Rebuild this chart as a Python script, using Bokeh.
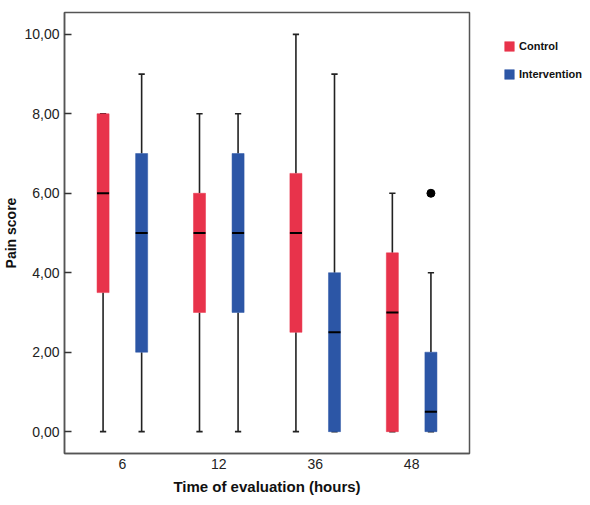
from bokeh.plotting import figure
from bokeh.models import Range1d, FixedTicker, Legend, LegendItem, ColumnDataSource
from bokeh.embed import file_html
from bokeh.resources import INLINE

# ---- data ----
times = ["6", "12", "36", "48"]
ctrl_min = [0, 0, 0, 0]
ctrl_q1 = [3.5, 3, 2.5, 0]
ctrl_med = [6, 5, 5, 3]
ctrl_q3 = [8, 6, 6.5, 4.5]
ctrl_max = [8, 8, 10, 6]

int_min = [0, 0, 0, 0]
int_q1 = [2, 3, 0, 0]
int_med = [5, 5, 2.5, 0.5]
int_q3 = [7, 7, 4, 2]
int_max = [9, 8, 9, 4]

outlier_time = ["48"]
outlier_value = [6]

y_ticks = [0, 2, 4, 6, 8, 10]
y_tick_labels = ["0,00", "2,00", "4,00", "6,00", "8,00", "10,00"]

RED = "#E8334B"
BOXBLUE = "#2C56A6"
FONT = "Liberation Sans"

OFF = 0.2
BOXW = 0.125
CAPW = 0.065

p = figure(frame_width=405, frame_height=441, output_backend="svg", toolbar_location=None,
           x_range=Range1d(-0.6, 3.6), y_range=Range1d(-0.55, 10.55),
           min_border_left=0, min_border_right=111, min_border_top=12, min_border_bottom=0)
p.background_fill_color = "white"
p.border_fill_color = "white"
p.outline_line_color = "#555555"
p.outline_line_width = 1.5
p.xgrid.visible = False
p.ygrid.visible = False


def series(q1, med, q3, lo, hi, off):
    xs = [i + off for i in range(len(times))]
    return ColumnDataSource(dict(x=xs, q1=q1, med=med, q3=q3, lo=lo, hi=hi,
                                 cl=[x - CAPW / 2 for x in xs], cr=[x + CAPW / 2 for x in xs],
                                 bl=[x - BOXW / 2 for x in xs], br=[x + BOXW / 2 for x in xs]))


src_c = series(ctrl_q1, ctrl_med, ctrl_q3, ctrl_min, ctrl_max, -OFF)
src_i = series(int_q1, int_med, int_q3, int_min, int_max, OFF)

renderers = []
for src, col in ((src_c, RED), (src_i, BOXBLUE)):
    p.segment(x0="x", y0="lo", x1="x", y1="q1", source=src, line_color="#222222", line_width=1.6)
    p.segment(x0="x", y0="q3", x1="x", y1="hi", source=src, line_color="#222222", line_width=1.6)
    p.segment(x0="cl", y0="lo", x1="cr", y1="lo", source=src, line_color="#222222", line_width=1.6)
    p.segment(x0="cl", y0="hi", x1="cr", y1="hi", source=src, line_color="#222222", line_width=1.6)
    r = p.vbar(x="x", width=BOXW, bottom="q1", top="q3", source=src,
               fill_color=col, line_color=col, line_width=0.5)
    p.segment(x0="bl", y0="med", x1="br", y1="med", source=src, line_color="black", line_width=2)
    renderers.append(r)

out_x = [times.index(t) + OFF for t in outlier_time]
p.scatter(out_x, outlier_value, size=8, fill_color="black", line_color="black")

# axes
p.xaxis.ticker = FixedTicker(ticks=list(range(len(times))))
p.xaxis.major_label_overrides = {i: t for i, t in enumerate(times)}
p.xaxis.major_tick_in = 0
p.xaxis.major_tick_out = 0
p.xaxis.minor_tick_line_color = None
p.xaxis.axis_line_color = "#555555"
p.xaxis.axis_line_width = 1.5
p.xaxis.major_label_text_font = FONT
p.xaxis.major_label_text_font_size = "14px"
p.xaxis.major_label_text_color = "#222222"
p.xaxis.major_label_standoff = 5
p.xaxis.axis_label = "Time of evaluation (hours)"
p.xaxis.axis_label_text_font = FONT
p.xaxis.axis_label_text_font_size = "15px"
p.xaxis.axis_label_text_font_style = "bold"
p.xaxis.axis_label_text_color = "#111111"
p.xaxis.axis_label_standoff = 6

p.yaxis.ticker = FixedTicker(ticks=y_ticks)
p.yaxis.major_label_overrides = dict(zip(y_ticks, y_tick_labels))
p.yaxis.major_tick_in = 7
p.yaxis.major_tick_out = 0
p.yaxis.major_tick_line_color = "#333333"
p.yaxis.major_tick_line_width = 1.5
p.yaxis.minor_tick_line_color = None
p.yaxis.axis_line_color = "#555555"
p.yaxis.axis_line_width = 1.5
p.yaxis.major_label_text_font = FONT
p.yaxis.major_label_text_font_size = "14px"
p.yaxis.major_label_text_color = "#222222"
p.yaxis.major_label_standoff = 5
p.yaxis.axis_label = "Pain score"
p.yaxis.axis_label_text_font = FONT
p.yaxis.axis_label_text_font_size = "14px"
p.yaxis.axis_label_text_font_style = "bold"
p.yaxis.axis_label_text_color = "#111111"
p.yaxis.axis_label_standoff = 2

legend = Legend(items=[LegendItem(label="Control", renderers=[renderers[0]]),
                       LegendItem(label="Intervention", renderers=[renderers[1]])],
                location=(34, 373), padding=0, margin=0, spacing=16,
                glyph_width=12, glyph_height=12, label_height=12, label_standoff=4,
                label_text_font=FONT, label_text_font_size="11px",
                label_text_font_style="bold", label_text_color="#111111",
                border_line_color=None, background_fill_alpha=0)
p.add_layout(legend, "right")

open("out.html", "w").write(file_html(p, INLINE))
